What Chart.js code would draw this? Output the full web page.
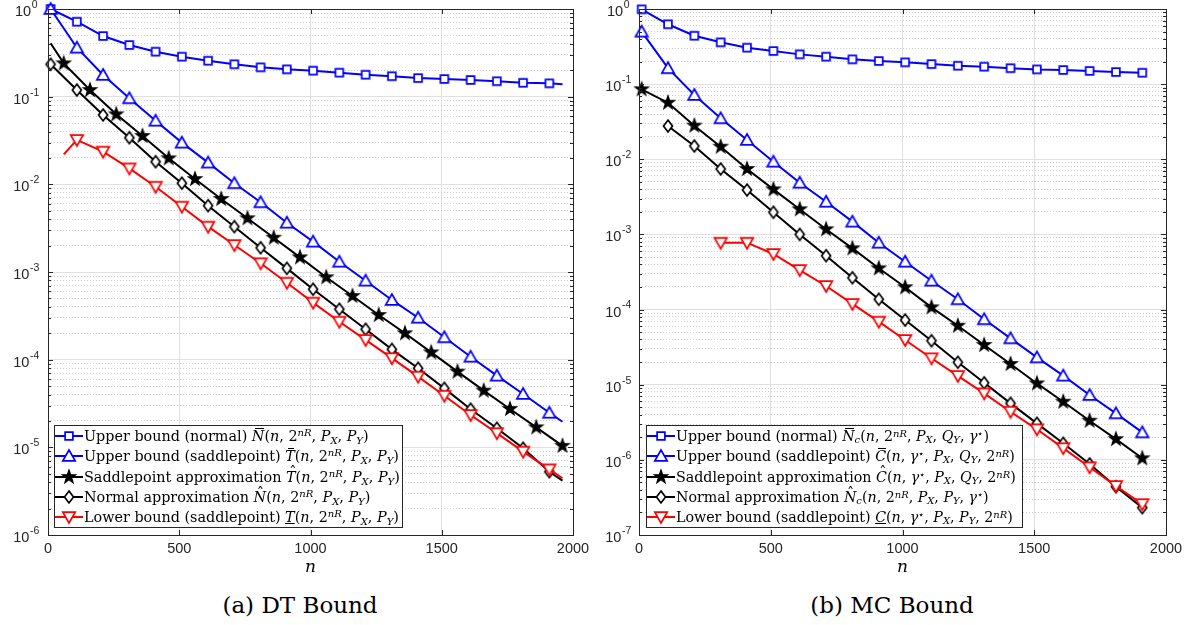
<!DOCTYPE html>
<html><head><meta charset="utf-8">
<script src="https://cdn.jsdelivr.net/npm/chart.js@4.4.1/dist/chart.umd.min.js"></script>
<style>
html,body{margin:0;padding:0;background:#fff;width:1195px;height:625px;overflow:hidden;}
#wrap{position:relative;width:1195px;height:625px;}
canvas.chart{position:absolute;top:0;}
.legend{position:absolute;border:1px solid #262626;background:#fff;font-family:"DejaVu Serif",serif;font-size:14px;color:#000;box-sizing:border-box;padding-top:0px}
.row{height:20.3px;line-height:20px;white-space:nowrap;display:flex;align-items:center}
.row canvas{flex:none}
.txt{white-space:nowrap}
.caption{position:absolute;font-family:"DejaVu Serif",serif;font-size:23px;line-height:28px;transform:translateX(-50%);white-space:nowrap;color:#000}
.ac{position:relative;display:inline-block;font-style:italic}
.bar::before{content:"";position:absolute;left:0.22em;right:0.02em;top:1.5px;border-top:1px solid #000}
.hat::before{content:"\02C6";position:absolute;left:0.22em;top:-0.30em;font-style:normal}
.ul{text-decoration:underline;font-style:italic}
sup{font-size:0.7em;vertical-align:0.45em;line-height:0}
sub{font-size:0.7em;vertical-align:-0.25em;line-height:0}
</style>
</head><body><div id="wrap">
<canvas id="c1" class="chart" width="597" height="580" style="left:0px"></canvas>
<canvas id="c2" class="chart" width="598" height="580" style="left:597px"></canvas>
<div id="lg1" class="legend" style="left:54px;top:425px;width:349px;height:103px"></div>
<div id="lg2" class="legend" style="left:646px;top:425px;width:377px;height:103px"></div>
<div class="caption" style="left:300px;top:591px">(a) DT Bound</div>
<div class="caption" style="left:892px;top:591px">(b) MC Bound</div>
</div>
<script>
// ---------------- DATA: (a) DT Bound ----------------
const dtN_main  = [10,110,210,310,410,510,610,710,810,910,1010,1110,1210,1310,1410,1510,1610,1710,1810,1910,1960];
const dtN_star  = [10,60,160,260,360,460,560,660,760,860,960,1060,1160,1260,1360,1460,1560,1660,1760,1860,1960];
const dtN_lower = [60,110,210,310,410,510,610,710,810,910,1010,1110,1210,1310,1410,1510,1610,1710,1810,1910,1960];
const dtUpperNormal = [1.0,0.716,0.492,0.388,0.326,0.286,0.257,0.234,0.216,0.205,0.198,0.188,0.178,0.171,0.163,0.159,0.155,0.150,0.144,0.142,0.139];
const dtUpperSaddle = [1.0,0.362,0.177,0.0958,0.0532,0.0299,0.0177,0.0103,0.00624,0.00365,0.00222,0.00131,7.96e-4,4.80e-4,3.01e-4,1.80e-4,1.08e-4,6.57e-5,4.06e-5,2.48e-5,1.96e-5];
const dtSaddleApprox = [0.406,0.240,0.119,0.0629,0.0356,0.0198,0.0115,0.00681,0.00410,0.00246,0.00147,8.70e-4,5.32e-4,3.23e-4,2.00e-4,1.21e-4,7.30e-5,4.43e-5,2.74e-5,1.69e-5,1.04e-5];
const dtNormalApprox = [0.234,0.119,0.0618,0.0340,0.0181,0.0103,0.00571,0.00329,0.00189,0.00110,6.35e-4,3.76e-4,2.22e-4,1.31e-4,7.98e-5,4.71e-5,2.72e-5,1.65e-5,9.75e-6,5.27e-6,4.17e-6];
const dtLowerSaddle = [0.022,0.0321,0.0236,0.0152,0.00940,0.00556,0.00329,0.00203,0.00126,7.55e-4,4.47e-4,2.71e-4,1.68e-4,1.04e-4,6.40e-5,3.88e-5,2.34e-5,1.45e-5,8.92e-6,5.61e-6,4.44e-6];

// ---------------- DATA: (b) MC Bound ----------------
const mcN        = [10,110,210,310,410,510,610,710,810,910,1010,1110,1210,1310,1410,1510,1610,1710,1810,1910];
const mcN_normal = [110,210,310,410,510,610,710,810,910,1010,1110,1210,1310,1410,1510,1610,1710,1810,1910];
const mcN_lower  = [310,410,510,610,710,810,910,1010,1110,1210,1310,1410,1510,1610,1710,1810,1910];
const mcUpperNormal = [0.99,0.626,0.441,0.360,0.306,0.276,0.249,0.232,0.214,0.203,0.195,0.185,0.176,0.171,0.163,0.157,0.154,0.150,0.145,0.142];
const mcUpperSaddle = [0.499,0.163,0.0717,0.0351,0.0181,0.00929,0.00488,0.00272,0.00148,7.76e-4,4.33e-4,2.42e-4,1.37e-4,7.42e-5,4.14e-5,2.31e-5,1.32e-5,7.29e-6,4.16e-6,2.32e-6];
const mcSaddleApprox = [0.0854,0.0566,0.0280,0.0147,0.00743,0.00398,0.00216,0.00117,6.53e-4,3.54e-4,1.98e-4,1.07e-4,6.10e-5,3.38e-5,1.89e-5,1.04e-5,5.94e-6,3.32e-6,1.89e-6,1.05e-6];
const mcNormalApprox = [0.0277,0.0150,0.00743,0.00390,0.00197,0.00100,5.21e-4,2.65e-4,1.37e-4,7.26e-5,3.85e-5,1.99e-5,1.06e-5,5.65e-6,3.06e-6,1.66e-6,8.81e-7,4.40e-7,2.31e-7];
const mcLowerSaddle = [7.76e-4,7.76e-4,5.49e-4,3.36e-4,2.06e-4,1.19e-4,6.90e-5,3.94e-5,2.25e-5,1.31e-5,7.68e-6,4.37e-6,2.55e-6,1.43e-6,7.96e-7,4.49e-7,2.58e-7];

// ---------------- AXES / LABELS ----------------
const xTicks = [0,500,1000,1500,2000];
const dtYExp = [-6,-5,-4,-3,-2,-1,0];
const mcYExp = [-7,-6,-5,-4,-3,-2,-1,0];
const dtLabels = [
 'Upper bound (normal) <span class="ac bar">N</span>(<i>n</i>, 2<sup><i>nR</i></sup>, <i>P<sub>X</sub></i>, <i>P<sub>Y</sub></i>)',
 'Upper bound (saddlepoint) <span class="ac bar">T</span>(<i>n</i>, 2<sup><i>nR</i></sup>, <i>P<sub>X</sub></i>, <i>P<sub>Y</sub></i>)',
 'Saddlepoint approximation <span class="ac hat">T</span>(<i>n</i>, 2<sup><i>nR</i></sup>, <i>P<sub>X</sub></i>, <i>P<sub>Y</sub></i>)',
 'Normal approximation <span class="ac hat">N</span>(<i>n</i>, 2<sup><i>nR</i></sup>, <i>P<sub>X</sub></i>, <i>P<sub>Y</sub></i>)',
 'Lower bound (saddlepoint) <span class="ul">T</span>(<i>n</i>, 2<sup><i>nR</i></sup>, <i>P<sub>X</sub></i>, <i>P<sub>Y</sub></i>)'
];
const mcLabels = [
 'Upper bound (normal) <span class="ac bar">N</span><sub><i>c</i></sub>(<i>n</i>, 2<sup><i>nR</i></sup>, <i>P<sub>X</sub></i>, <i>Q<sub>Y</sub></i>, <i>γ</i><sup>⋆</sup>)',
 'Upper bound (saddlepoint) <span class="ac bar">C</span>(<i>n</i>, <i>γ</i><sup>⋆</sup>, <i>P<sub>X</sub></i>, <i>Q<sub>Y</sub></i>, 2<sup><i>nR</i></sup>)',
 'Saddlepoint approximation <span class="ac hat">C</span>(<i>n</i>, <i>γ</i><sup>⋆</sup>, <i>P<sub>X</sub></i>, <i>Q<sub>Y</sub></i>, 2<sup><i>nR</i></sup>)',
 'Normal approximation <span class="ac hat">N</span><sub><i>c</i></sub>(<i>n</i>, 2<sup><i>nR</i></sup>, <i>P<sub>X</sub></i>, <i>P<sub>Y</sub></i>, <i>γ</i><sup>⋆</sup>)',
 'Lower bound (saddlepoint) <span class="ul">C</span>(<i>n</i>, <i>γ</i><sup>⋆</sup>, <i>P<sub>X</sub></i>, <i>P<sub>Y</sub></i>, 2<sup><i>nR</i></sup>)'
];

// ---------------- STYLE ----------------
const BLUE='#0000ff', RED='#ff0000', BLACK='#000000', AXIS='#262626';
function makeMarker(kind,color){
  const s=18,c=document.createElement('canvas');c.width=s;c.height=s;
  const g=c.getContext('2d');g.translate(s/2,s/2);g.lineWidth=1.7;g.strokeStyle=color;g.fillStyle='#fff';g.lineJoin='miter';
  g.beginPath();
  if(kind==='square'){g.rect(-3.9,-3.9,7.8,7.8);}
  else if(kind==='up'){g.moveTo(0,-6);g.lineTo(6.2,4.8);g.lineTo(-6.2,4.8);g.closePath();}
  else if(kind==='down'){g.moveTo(0,6);g.lineTo(6.2,-4.8);g.lineTo(-6.2,-4.8);g.closePath();}
  else if(kind==='diamond'){g.moveTo(0,-5.9);g.lineTo(4.5,0);g.lineTo(0,5.9);g.lineTo(-4.5,0);g.closePath();}
  else if(kind==='star'){for(let i=0;i<10;i++){const r=i%2?2.8:7.0,a=-Math.PI/2+i*Math.PI/5;if(i===0)g.moveTo(r*Math.cos(a),r*Math.sin(a));else g.lineTo(r*Math.cos(a),r*Math.sin(a));}g.closePath();g.fillStyle=color;g.lineWidth=1.2;}
  g.fill();g.stroke();return c;
}
const M={square:makeMarker('square',BLUE),up:makeMarker('up',BLUE),star:makeMarker('star',BLACK),diamond:makeMarker('diamond',BLACK),down:makeMarker('down',RED)};
const legendOrder=[['square',BLUE],['up',BLUE],['star',BLACK],['diamond',BLACK],['down',RED]];

function ds(ns,vals,color,marker,offset){
  return {data:ns.map((n,i)=>({x:n,y:vals[i]})),borderColor:color,borderWidth:2,tension:0,clip:false,
    pointStyle:M[marker],pointRadius:c=>(c.raw&&((c.raw.x-offset)%100===0))?5:0,pointHoverRadius:0,fill:false};
}
const isPow10=v=>Math.abs(Math.log10(v)-Math.round(Math.log10(v)))<1e-9;

const framePlugin={id:'frame',afterDraw(chart){
  const {ctx,chartArea:a,scales:{x,y}}=chart;const o=chart.options.plugins.frame;
  ctx.save();ctx.strokeStyle=AXIS;ctx.lineWidth=1;ctx.beginPath();
  y.ticks.forEach(t=>{const py=Math.round(y.getPixelForValue(t.value))+0.5;const len=isPow10(t.value)?5:3;
    ctx.moveTo(a.left,py);ctx.lineTo(a.left+len,py);ctx.moveTo(a.right,py);ctx.lineTo(a.right-len,py);});
  x.ticks.forEach(t=>{const px=Math.round(x.getPixelForValue(t.value))+0.5;
    ctx.moveTo(px,a.bottom);ctx.lineTo(px,a.bottom-5);ctx.moveTo(px,a.top);ctx.lineTo(px,a.top+5);});
  ctx.stroke();
  ctx.strokeRect(Math.round(a.left)+0.5,Math.round(a.top)+0.5,Math.round(a.right-a.left),Math.round(a.bottom-a.top));
  ctx.fillStyle=AXIS;ctx.textBaseline='middle';ctx.textAlign='left';
  o.exps.forEach(e=>{const py=y.getPixelForValue(Math.pow(10,e));
    ctx.font='14.5px "Liberation Sans", Arial, sans-serif';const w1=ctx.measureText('10').width;
    ctx.font='10.5px "Liberation Sans", Arial, sans-serif';const es=String(e);const w2=ctx.measureText(es).width;
    const sx=a.left-o.labelOff-(w1+w2)/2;
    ctx.font='14.5px "Liberation Sans", Arial, sans-serif';ctx.fillText('10',sx,py+3);
    ctx.font='10.5px "Liberation Sans", Arial, sans-serif';ctx.fillText(es,sx+w1+0.5,py-4);});
  ctx.font='italic 17px "DejaVu Serif", serif';ctx.textAlign='center';ctx.fillStyle='#000';
  ctx.fillText('n',(a.left+a.right)/2,568);
  ctx.restore();
}};

function makeChart(id,datasets,yMin,exps,leftW,rightPad,labelOff){
  return new Chart(document.getElementById(id),{type:'line',data:{datasets},
    options:{responsive:false,animation:false,devicePixelRatio:1,
      layout:{padding:{top:9,right:rightPad,left:0,bottom:0}},
      plugins:{legend:{display:false},tooltip:{enabled:false},frame:{exps,labelOff}},
      scales:{
        x:{type:'linear',min:0,max:2000,afterBuildTicks:s=>{s.ticks=xTicks.map(v=>({value:v}));},
          ticks:{font:{family:'"Liberation Sans", Arial, sans-serif',size:14.5},color:AXIS,padding:5,maxRotation:0,autoSkip:false,callback:v=>String(v)},
          grid:{color:'#e0e0e0',lineWidth:1,drawTicks:false},border:{display:false},afterFit:s=>{s.height=45;}},
        y:{type:'logarithmic',min:yMin,max:1,
          afterBuildTicks:s=>{const t=[];for(let e=exps[0];e<=0;e++){for(let m=1;m<=9;m++){const v=m*Math.pow(10,e);if(v<=1.0000001)t.push({value:v,major:m===1});}}s.ticks=t;},
          ticks:{display:false,autoSkip:false},
          grid:{color:c=>(c.tick&&isPow10(c.tick.value))?'#e0e0e0':'#cdcdcd',lineWidth:1,drawTicks:false},
          border:{display:false,dash:c=>(c.tick&&!isPow10(c.tick.value))?[1,2]:[]},
          afterFit:s=>{s.width=leftW;}}
      }},plugins:[framePlugin]});
}

makeChart('c1',[
  ds(dtN_lower,dtLowerSaddle,RED,'down',10),
  ds(dtN_main,dtNormalApprox,BLACK,'diamond',10),
  ds(dtN_star,dtSaddleApprox,BLACK,'star',60),
  ds(dtN_main,dtUpperSaddle,BLUE,'up',10),
  ds(dtN_main,dtUpperNormal,BLUE,'square',10)
],1e-6,dtYExp,48,24,22);
makeChart('c2',[
  ds(mcN_lower,mcLowerSaddle,RED,'down',10),
  ds(mcN_normal,mcNormalApprox,BLACK,'diamond',10),
  ds(mcN,mcSaddleApprox,BLACK,'star',10),
  ds(mcN,mcUpperSaddle,BLUE,'up',10),
  ds(mcN,mcUpperNormal,BLUE,'square',10)
],1e-7,mcYExp,42,29,21);

function buildLegend(id,labels,targetW){
  const box=document.getElementById(id);
  labels.forEach((lab,i)=>{
    const row=document.createElement('div');row.className='row';
    const cv=document.createElement('canvas');cv.width=29;cv.height=20;
    const g=cv.getContext('2d');const [mk,col]=legendOrder[i];
    g.strokeStyle=col;g.lineWidth=2;g.beginPath();g.moveTo(0,10);g.lineTo(28,10);g.stroke();
    g.drawImage(M[mk],14-9,10-9);
    const sp=document.createElement('span');sp.className='txt';sp.innerHTML=lab;
    row.appendChild(cv);row.appendChild(sp);box.appendChild(row);
  });
  const spans=[...box.querySelectorAll('.txt')];
  const w=Math.max(...spans.map(s=>s.getBoundingClientRect().width));
  const fs=14*targetW/w;box.style.fontSize=Math.min(fs,16).toFixed(2)+'px';
}
buildLegend('lg1',dtLabels,316);
buildLegend('lg2',mcLabels,340);
</script>
</body></html>
